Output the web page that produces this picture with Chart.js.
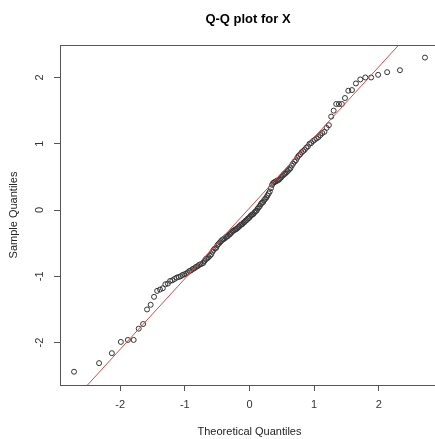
<!DOCTYPE html>
<html>
<head>
<meta charset="utf-8">
<script src="https://cdn.jsdelivr.net/npm/chart.js@4.4.1/dist/chart.umd.min.js"></script>
<style>
  html, body { margin: 0; padding: 0; background: #fff; overflow: hidden; width: 435px; height: 439px; }
  #wrap { position: relative; width: 445px; height: 439px; }
</style>
</head>
<body>
<div id="wrap"><canvas id="qq" width="445" height="439"></canvas></div>
<script>
// Theoretical normal quantiles (150 observations)
const theoQ = [
  -2.713, -2.326, -2.128, -1.989, -1.881, -1.791, -1.713, -1.645, -1.584, -1.528,
  -1.476, -1.428, -1.383, -1.341, -1.301, -1.263, -1.227, -1.192, -1.159, -1.126,
  -1.095, -1.065, -1.036, -1.008, -0.981, -0.954, -0.928, -0.903, -0.878, -0.854,
  -0.830, -0.806, -0.783, -0.761, -0.739, -0.717, -0.695, -0.674, -0.654, -0.633,
  -0.613, -0.593, -0.573, -0.553, -0.534, -0.515, -0.496, -0.477, -0.459, -0.440,
  -0.422, -0.404, -0.385, -0.367, -0.349, -0.332, -0.314, -0.297, -0.279, -0.262,
  -0.245, -0.228, -0.210, -0.193, -0.176, -0.159, -0.143, -0.126, -0.109, -0.092,
  -0.075, -0.059, -0.042, -0.025, -0.008,
   0.008,  0.025,  0.042,  0.059,  0.075,  0.092,  0.109,  0.126,  0.143,  0.159,
   0.176,  0.193,  0.210,  0.228,  0.245,  0.262,  0.279,  0.297,  0.314,  0.332,
   0.349,  0.367,  0.385,  0.404,  0.422,  0.440,  0.459,  0.477,  0.496,  0.515,
   0.534,  0.553,  0.573,  0.593,  0.613,  0.633,  0.654,  0.674,  0.695,  0.717,
   0.739,  0.761,  0.783,  0.806,  0.830,  0.854,  0.878,  0.903,  0.928,  0.954,
   0.981,  1.008,  1.036,  1.065,  1.095,  1.126,  1.159,  1.192,  1.227,  1.263,
   1.301,  1.341,  1.383,  1.428,  1.476,  1.528,  1.584,  1.645,  1.713,  1.791,
   1.881,  1.989,  2.128,  2.326,  2.713
];

// Sorted sample values of X
const sampleQ = [
  -2.44, -2.31, -2.16, -1.99, -1.96, -1.96, -1.79, -1.72, -1.50, -1.43,
  -1.31, -1.22, -1.20, -1.18, -1.12, -1.11, -1.07, -1.06, -1.04, -1.02,
  -1.01, -1.00, -0.98, -0.97, -0.96, -0.94, -0.92, -0.91, -0.89, -0.88,
  -0.86, -0.85, -0.83, -0.82, -0.81, -0.80, -0.77, -0.74, -0.73, -0.71,
  -0.69, -0.67, -0.63, -0.60, -0.58, -0.57, -0.53, -0.51, -0.49, -0.47,
  -0.45, -0.44, -0.43, -0.41, -0.40, -0.39, -0.37, -0.36, -0.34, -0.32,
  -0.31, -0.30, -0.29, -0.28, -0.26, -0.25, -0.23, -0.22, -0.21, -0.19,
  -0.18, -0.16, -0.15, -0.13, -0.12, -0.10, -0.08, -0.07, -0.06, -0.04,
  -0.02, -0.01,  0.02,  0.04,  0.06,  0.09,  0.11,  0.12,  0.15,  0.17,
   0.19,  0.22,  0.25,  0.28,  0.33,  0.38,  0.41,  0.42,  0.43,  0.44,
   0.45,  0.46,  0.48,  0.50,  0.52,  0.54,  0.55,  0.57,  0.59,  0.61,
   0.63,  0.67,  0.70,  0.73,  0.75,  0.79,  0.82,  0.84,  0.87,  0.89,
   0.91,  0.94,  0.96,  1.00,  1.01,  1.04,  1.06,  1.08,  1.10,  1.13,
   1.16,  1.18,  1.24,  1.28,  1.41,  1.50,  1.60,  1.60,  1.60,  1.69,
   1.80,  1.81,  1.91,  1.97,  2.00,  2.00,  2.04,  2.08,  2.11,  2.30
];

// Reference line through the quartiles
const qqLineIntercept = 0.03;
const qqLineSlope = 1.066;

const xTicks = [-2, -1, 0, 1, 2];
const yTicks = [-2, -1, 0, 1, 2];

const titleText = 'Q-Q plot for X';
const xLabel = 'Theoretical Quantiles';
const yLabel = 'Sample Quantiles';

const FONT = '"Liberation Sans", Arial, sans-serif';
const AXIS_COLOR = '#555';

const points = theoQ.map((x, i) => ({ x: x, y: sampleQ[i] }));
const lineEnds = [-3.5, 3.5].map(x => ({ x: x, y: qqLineIntercept + qqLineSlope * x }));

// Box, rotated y tick labels, title and axis titles
const decorations = {
  id: 'decorations',
  afterDraw(chart) {
    const { ctx, chartArea: a, scales } = chart;
    ctx.save();
    ctx.strokeStyle = AXIS_COLOR;
    ctx.lineWidth = 1;
    ctx.strokeRect(a.left + 0.5, a.top + 0.5, a.right - a.left, a.bottom - a.top);

    ctx.fillStyle = '#333';
    ctx.font = '11px ' + FONT;
    ctx.textAlign = 'center';
    ctx.textBaseline = 'middle';
    yTicks.forEach(v => {
      const y = scales.y.getPixelForValue(v);
      ctx.save();
      ctx.translate(40, y);
      ctx.rotate(-Math.PI / 2);
      ctx.fillText(String(v), 0, 0);
      ctx.restore();
    });

    ctx.fillStyle = '#222';
    ctx.font = '11px ' + FONT;
    ctx.fillText(xLabel, (a.left + 379 / 2), 432);
    ctx.save();
    ctx.translate(14, (a.top + a.bottom) / 2);
    ctx.rotate(-Math.PI / 2);
    ctx.fillText(yLabel, 0, 0);
    ctx.restore();

    ctx.fillStyle = '#000';
    ctx.font = 'bold 13px ' + FONT;
    ctx.fillText(titleText, 248, 19);
    ctx.restore();
  }
};

new Chart(document.getElementById('qq'), {
  data: {
    datasets: [
      {
        type: 'line',
        data: lineEnds,
        borderColor: '#d44a4a',
        borderWidth: 1,
        pointRadius: 0,
        fill: false
      },
      {
        type: 'scatter',
        data: points,
        pointStyle: 'circle',
        pointRadius: 2.5,
        borderWidth: 1,
        borderColor: '#333',
        backgroundColor: 'rgba(0,0,0,0)'
      }
    ]
  },
  options: {
    responsive: false,
    devicePixelRatio: 1,
    animation: false,
    events: [],
    layout: { padding: { left: 0, top: 45, right: 6, bottom: 0 } },
    plugins: { legend: { display: false }, tooltip: { enabled: false }, title: { display: false } },
    scales: {
      x: {
        type: 'linear',
        position: 'bottom',
        min: -2.93,
        max: 2.93,
        afterFit(s) { s.height = 54; },
        afterBuildTicks(s) { s.ticks = xTicks.map(v => ({ value: v })); },
        ticks: {
          autoSkip: false,
          maxRotation: 0,
          padding: 7,
          color: '#333',
          font: { family: FONT, size: 11 }
        },
        grid: { drawOnChartArea: false, drawTicks: true, tickLength: 6, color: AXIS_COLOR, tickColor: AXIS_COLOR },
        border: { display: false }
      },
      y: {
        type: 'linear',
        position: 'left',
        min: -2.64,
        max: 2.49,
        afterFit(s) { s.width = 60; },
        afterBuildTicks(s) { s.ticks = yTicks.map(v => ({ value: v })); },
        ticks: { display: false },
        grid: { drawOnChartArea: false, drawTicks: true, tickLength: 6, color: AXIS_COLOR, tickColor: AXIS_COLOR },
        border: { display: false }
      }
    }
  },
  plugins: [decorations]
});
</script>
</body>
</html>
